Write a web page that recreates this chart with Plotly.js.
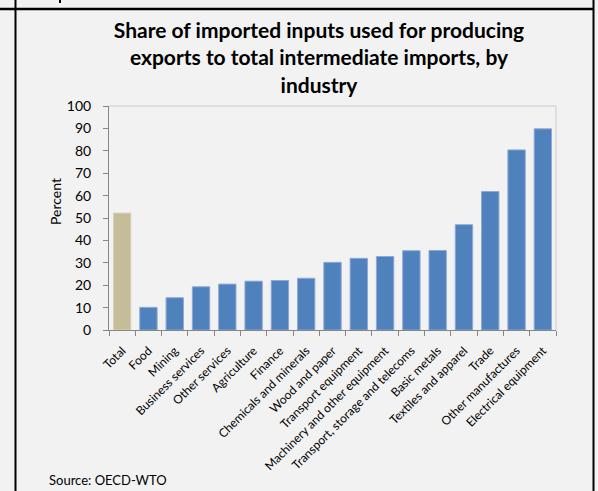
<!DOCTYPE html>
<html>
<head>
<meta charset="utf-8">
<script src="https://cdn.plot.ly/plotly-3.0.1.min.js"></script>
<style>
html,body{margin:0;padding:0;background:#F2F2F2;}
#chart{width:598px;height:491px;}
</style>
</head>
<body>
<div id="chart"></div>
<script>
const categories = ["Total","Food","Mining","Business services","Other services","Agriculture","Finance","Chemicals and minerals","Wood and paper","Transport equipment","Machinery and other equipment","Transport, storage and telecoms","Basic metals","Textiles and apparel","Trade","Other manufactures","Electrical equipment"];
const values = [52.2,10.1,14.4,19.3,20.5,21.8,22.1,23.1,30.2,32.0,32.8,35.4,35.5,47.0,61.8,80.4,89.8];
const barColors = ["#C4BD97","#4F81BD","#4F81BD","#4F81BD","#4F81BD","#4F81BD","#4F81BD","#4F81BD","#4F81BD","#4F81BD","#4F81BD","#4F81BD","#4F81BD","#4F81BD","#4F81BD","#4F81BD","#4F81BD"];
const lineColors = ["#D8D3B8","#8DA9D6","#8DA9D6","#8DA9D6","#8DA9D6","#8DA9D6","#8DA9D6","#8DA9D6","#8DA9D6","#8DA9D6","#8DA9D6","#8DA9D6","#8DA9D6","#8DA9D6","#8DA9D6","#8DA9D6","#8DA9D6"];
const yTicks = [0,10,20,30,40,50,60,70,80,90,100];

const W = 598, H = 491;
const L = 109, R = 42, T = 106, B = 161;
const pw = W - L - R, ph = H - T - B;
const px = x => (x - L) / pw;
const py = y => (H - B - y) / ph;
const FONT = "Lato, Carlito, Calibri, sans-serif";

const trace = {
  type: "bar",
  x: categories,
  y: values,
  marker: {color: barColors, line: {color: lineColors, width: 1}},
  hoverinfo: "x+y"
};

const layout = {
  width: W, height: H,
  margin: {l: L, r: R, t: T, b: B, pad: 0},
  paper_bgcolor: "#F2F2F2",
  plot_bgcolor: "#F2F2F2",
  showlegend: false,
  bargap: 0.34,
  font: {family: FONT, color: "#000000"},
  title: {
    text: "<b>Share of imported inputs used for producing<br>exports to total intermediate imports, by<br>industry</b>",
    font: {family: FONT, size: 21, color: "#000000"},
    xref: "container", x: 319 / W, xanchor: "center",
    yref: "container", y: 1 - 38 / H, yanchor: "top"
  },
  xaxis: {
    type: "category",
    tickangle: -45,
    ticks: "outside", ticklen: 5, tickcolor: "#868686", tickwidth: 1,
    tickson: "boundaries",
    ticklabelstandoff: 8,
    showline: true, linecolor: "#868686", linewidth: 1,
    showgrid: false, zeroline: false,
    tickfont: {family: FONT, size: 12, color: "#000000"},
    fixedrange: true
  },
  yaxis: {
    range: [0, 100],
    tickvals: yTicks,
    ticktext: yTicks.map(String),
    ticks: "outside", ticklen: 5, tickcolor: "#868686", tickwidth: 1,
    ticklabelstandoff: 9,
    showline: true, linecolor: "#868686", linewidth: 1,
    showgrid: false, zeroline: false,
    tickfont: {family: FONT, size: 14, color: "#000000"},
    fixedrange: true
  },
  shapes: [
    {type: "line", xref: "paper", yref: "paper", x0: 0, x1: 1, y0: 1, y1: 1, line: {color: "#D9D9D9", width: 1.5}},
    {type: "line", xref: "paper", yref: "paper", x0: 1, x1: 1, y0: 0, y1: 1, line: {color: "#D9D9D9", width: 1.5}},
    {type: "line", xref: "paper", yref: "paper", x0: px(15.5), x1: px(15.5), y0: py(0), y1: py(491), line: {color: "#000000", width: 2}},
    {type: "line", xref: "paper", yref: "paper", x0: px(0), x1: px(593.5), y0: py(9), y1: py(9), line: {color: "#000000", width: 2.5}},
    {type: "line", xref: "paper", yref: "paper", x0: px(593.5), x1: px(593.5), y0: py(0), y1: py(491), line: {color: "#000000", width: 2}},
    {type: "line", xref: "paper", yref: "paper", x0: px(60), x1: px(60), y0: py(0), y1: py(3), line: {color: "#000000", width: 2}}
  ],
  annotations: [
    {text: "Percent", xref: "paper", yref: "paper", x: px(55), y: py(202), textangle: -90, xanchor: "center", yanchor: "middle", showarrow: false, font: {family: FONT, size: 14, color: "#000000"}},
    {text: "Source: OECD-WTO", xref: "paper", yref: "paper", x: px(47), y: py(490), xanchor: "left", yanchor: "bottom", showarrow: false, font: {family: FONT, size: 13, color: "#000000"}}
  ]
};

Plotly.newPlot("chart", [trace], layout, {displayModeBar: false, staticPlot: true});
</script>
</body>
</html>
